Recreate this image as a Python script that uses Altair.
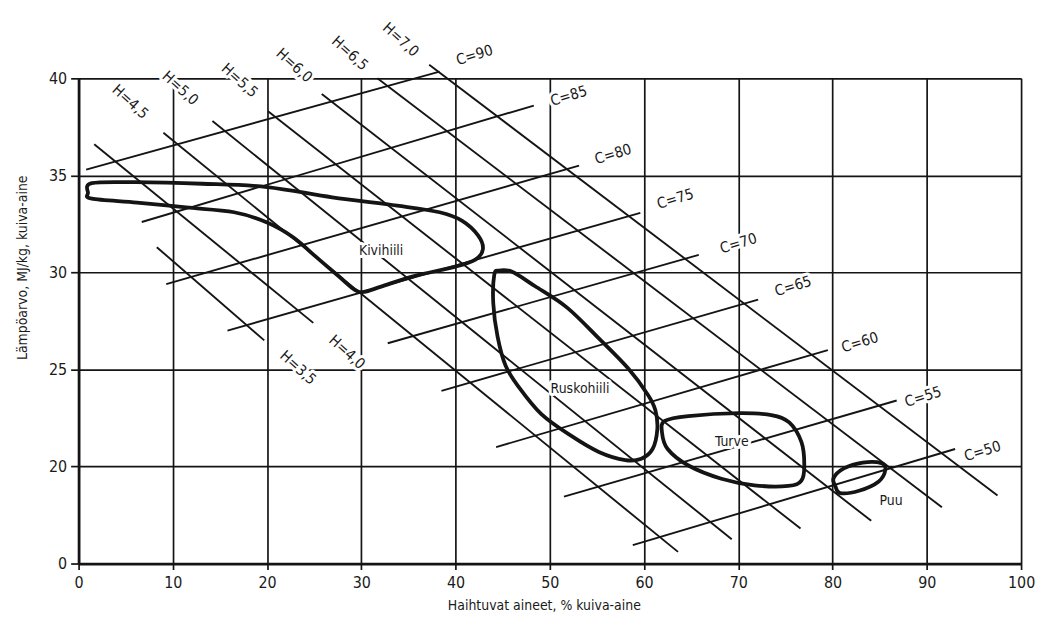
import altair as alt
import pandas as pd

# ---- C iso-lines (carbon content) ----
c_names = ["C=90", "C=85", "C=80", "C=75", "C=70", "C=65", "C=60", "C=55", "C=50"]
c_x1 = [0.8, 6.7, 9.3, 15.8, 32.8, 38.5, 44.3, 51.5, 58.8]
c_y1 = [35.3, 32.6, 29.4, 27.0, 26.35, 23.9, 21.0, 18.45, 15.95]
c_x2 = [38.3, 48.3, 53.1, 59.6, 65.8, 72.1, 79.5, 86.8, 93.0]
c_y2 = [40.35, 38.6, 35.5, 33.07, 30.9, 28.6, 26.0, 23.4, 20.9]
c_lx = [42.0, 52.0, 56.7, 63.3, 70.0, 75.8, 82.9, 89.6, 95.9]
c_ly = [41.2, 39.1, 36.1, 33.8, 31.5, 29.3, 26.4, 23.6, 20.8]

# ---- H iso-lines (hydrogen content) ----
h_names = ["H=3,5", "H=4,0", "H=4,5", "H=5,0", "H=5,5", "H=6,0", "H=6,5", "H=7,0"]
h_x1 = [8.3, 1.66, 9.0, 14.2, 20.1, 25.8, 31.7, 37.2]
h_y1 = [31.3, 36.6, 37.2, 37.8, 38.3, 39.2, 40.0, 40.7]
h_x2 = [19.7, 24.9, 63.6, 69.3, 76.6, 84.1, 91.6, 97.5]
h_y2 = [26.5, 27.4, 15.6, 16.25, 16.8, 17.2, 17.9, 18.5]
h_lx = [23.3, 28.5, 5.5, 10.8, 17.1, 22.9, 28.8, 34.2]
h_ly = [25.1, 25.9, 38.8, 39.5, 39.9, 40.67, 41.3, 42.0]

# ---- fuel regions (outlines) ----
kivi_x = [1.4, 6.0, 13.1, 20.0, 26.9, 33.8, 38.3, 40.7, 42.4, 42.9, 42.1, 40.0,
          35.5, 32.1, 30.3, 29.3, 27.6, 25.2, 22.8, 20.0, 16.5, 11.4, 6.2, 1.4, 1.0]
kivi_y = [34.6, 34.65, 34.57, 34.4, 33.87, 33.44, 33.1, 32.66, 31.9, 31.2, 30.66, 30.3,
          29.8, 29.27, 29.0, 29.1, 29.8, 30.8, 31.8, 32.57, 33.1, 33.35, 33.6, 33.8, 34.1]
rusk_x = [44.6, 46.0, 48.4, 51.8, 55.2, 58.3, 60.4, 61.2, 61.4, 60.9, 59.7, 58.0,
          55.2, 52.2, 49.1, 46.7, 45.3, 44.45, 44.0, 44.1]
rusk_y = [30.1, 30.03, 29.3, 28.2, 26.6, 25.06, 23.7, 22.9, 21.9, 20.9, 20.4, 20.33,
          20.75, 21.6, 22.7, 24.1, 25.2, 26.7, 28.4, 29.87]
turve_x = [62.2, 64.7, 70.0, 73.5, 75.4, 76.7, 77.0, 76.7, 75.3, 71.7, 68.2, 64.7, 62.5, 61.9]
turve_y = [22.35, 22.6, 22.75, 22.65, 22.27, 21.25, 20.05, 19.28, 19.0, 19.03, 19.37, 20.05, 20.9, 21.76]
puu_x = [80.3, 80.1, 81.2, 83.2, 85.2, 85.6, 84.9, 82.8, 80.8]
puu_y = [18.98, 19.4, 19.9, 20.2, 20.17, 19.83, 19.23, 18.75, 18.63]

region_names = ["Kivihiili", "Ruskohiili", "Turve", "Puu"]
region_lx = [32.1, 53.2, 69.3, 86.2]
region_ly = [31.1, 24.0, 21.25, 18.2]

x_ticks = [0, 10, 20, 30, 40, 50, 60, 70, 80, 90, 100]
y_ticks = [15, 20, 25, 30, 35, 40]  # 15 is drawn as "0" (broken axis)

FONT = "'DejaVu Sans Condensed', 'Liberation Sans Narrow', 'DejaVu Sans', sans-serif"
INK = "#141414"

c_df = pd.DataFrame({"name": c_names, "x1": c_x1, "y1": c_y1, "x2": c_x2, "y2": c_y2,
                     "lx": c_lx, "ly": c_ly})
h_df = pd.DataFrame({"name": h_names, "x1": h_x1, "y1": h_y1, "x2": h_x2, "y2": h_y2,
                     "lx": h_lx, "ly": h_ly})
rows = []
for name, xs_, ys_ in [("Kivihiili", kivi_x, kivi_y), ("Ruskohiili", rusk_x, rusk_y),
                       ("Turve", turve_x, turve_y), ("Puu", puu_x, puu_y)]:
    for i, (a, b) in enumerate(zip(xs_, ys_)):
        rows.append({"region": name, "i": i, "x": a, "y": b})
reg_df = pd.DataFrame(rows)
lab_df = pd.DataFrame({"name": region_names, "lx": region_lx, "ly": region_ly})

xs = alt.Scale(domain=[0, 100], nice=False, zero=False)
ys = alt.Scale(domain=[15, 40], nice=False, zero=False)

x_axis = alt.Axis(values=x_ticks, title="Haihtuvat aineet, % kuiva-aine", grid=True,
                  gridColor=INK, gridWidth=1.7, gridOpacity=1, domainColor=INK,
                  domainWidth=2.8, tickColor=INK, tickWidth=1.7, tickSize=6,
                  labelPadding=5, labelFontSize=16, labelFont=FONT, labelColor="#1a1a1a",
                  titleFont=FONT, titleFontSize=14, titleFontWeight="normal",
                  titleColor="#1a1a1a", titleX=468, titleY=35, labelFlush=False)
y_axis = alt.Axis(values=y_ticks, title="Lämpöarvo, MJ/kg, kuiva-aine", grid=True,
                  gridColor=INK, gridWidth=1.7, gridOpacity=1, domainColor=INK,
                  domainWidth=2.8, tickColor=INK, tickWidth=1.7, tickSize=8,
                  labelPadding=4, labelFontSize=16, labelFont=FONT, labelColor="#1a1a1a",
                  labelExpr="datum.value == 15 ? '0' : datum.label",
                  titleFont=FONT, titleFontSize=14, titleFontWeight="normal",
                  titleColor="#1a1a1a", titleX=-56, titleY=190, titleAngle=270,
                  titleAlign="center", titleBaseline="middle", labelFlush=False)


def X(f):
    return alt.X(f, scale=xs, axis=x_axis)


def Y(f):
    return alt.Y(f, scale=ys, axis=y_axis)


c_rules = alt.Chart(c_df).mark_rule(color=INK, strokeWidth=1.9).encode(
    x=X("x1:Q"), y=Y("y1:Q"), x2="x2:Q", y2="y2:Q")

h_rules = alt.Chart(h_df).mark_rule(color=INK, strokeWidth=1.9).encode(
    x=X("x1:Q"), y=Y("y1:Q"), x2="x2:Q", y2="y2:Q")

outlines = alt.Chart(reg_df).mark_line(color=INK, strokeWidth=3.8,
                                       interpolate="cardinal-closed").encode(
    x=X("x:Q"), y=Y("y:Q"), detail="region:N", order="i:Q")


def text_layers(df, angle, size):
    halo = alt.Chart(df).mark_text(font=FONT, fontSize=size, angle=angle, color="white",
                                   stroke="white", strokeWidth=6, strokeJoin="round",
                                   align="center", baseline="middle").encode(
        x=X("lx:Q"), y=Y("ly:Q"), text="name:N")
    txt = alt.Chart(df).mark_text(font=FONT, fontSize=size, angle=angle, color="#1a1a1a",
                                  align="center", baseline="middle").encode(
        x=X("lx:Q"), y=Y("ly:Q"), text="name:N")
    return [halo, txt]


layers = [c_rules, h_rules, outlines]
layers += text_layers(c_df, 343, 15)
layers += text_layers(h_df, 42, 15)
layers += text_layers(lab_df, 0, 14)

chart = alt.layer(*layers).properties(
    width=948, height=488,
    padding={"left": 71, "top": 69, "right": 14, "bottom": 50},
    autosize=alt.AutoSizeParams(type="none"),
    background="white",
).configure_view(stroke=None)

chart.save("out.html", embed_options={"renderer": "svg", "actions": False})
